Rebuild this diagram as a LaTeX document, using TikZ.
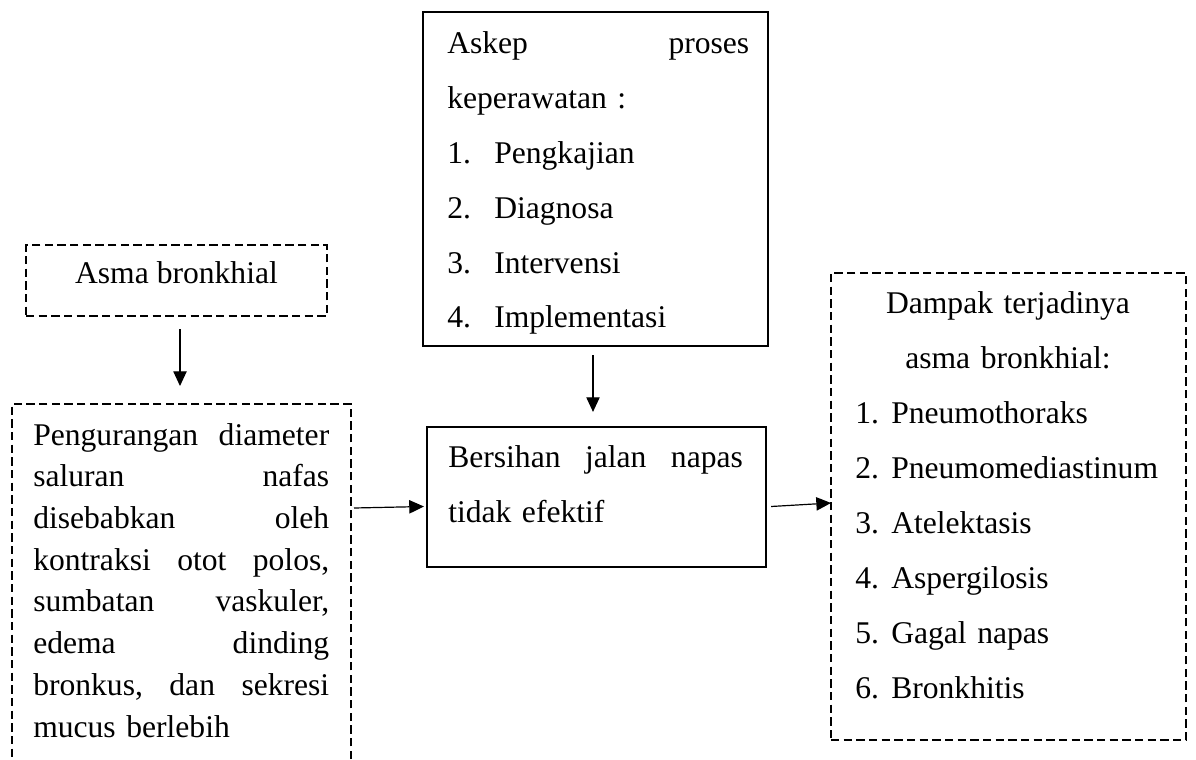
\documentclass[tikz,border=0pt]{standalone}
\usepackage{fontspec}
\setmainfont{Liberation Serif}
\usetikzlibrary{arrows.meta,fit,calc}
\setlength{\parindent}{0pt}
\newcommand{\itemlbl}[2]{\makebox[#1][l]{#2}}
\begin{document}
\begin{tikzpicture}[x=0.75pt,y=-0.75pt,
  sbox/.style={draw, line width=1.6pt, inner sep=0pt},
  dbox/.style={draw, line width=1.5pt, dash pattern=on 6.2pt off 3.3pt, inner sep=0pt},
  arr/.style={line width=0.9pt, -{Triangle[length=11pt,width=10pt]}},
  tight/.style={font=\fontsize{23.7pt}{31.3pt}\selectfont},
  loose/.style={font=\fontsize{23.7pt}{41.25pt}\selectfont},
  para/.style={anchor=base west, inner sep=0pt, align=left},
]
\useasboundingbox (0,0) rectangle (1196,760);
\clip (0,0) rectangle (1196,760);
\fill[white] (0,0) rectangle (1196,760);

% boxes
\node[dbox, fit={(26,245) (327,316)}] (asma) {};
\node[dbox, fit={(12,404) (351,800)}] (peng) {};
\node[sbox, fit={(423,12) (768,346)}] (askep) {};
\node[sbox, fit={(427,427) (766,567)}] (bers) {};
\node[dbox, fit={(831,273) (1186,740)}] (dampak) {};

% texts
\node[tight, anchor=base, inner sep=0pt] (tasma) at (176.5,283) {Asma bronkhial};

\node[tight, para, text width=222pt] (tpeng) at (33,445) {Pengurangan\hfill diameter\\
saluran\hfill nafas\\
disebabkan\hfill oleh\\
kontraksi\hfill otot\hfill polos,\\
sumbatan\hfill vaskuler,\\
edema\hfill dinding\\
bronkus,\hfill dan\hfill sekresi\\
mucus berlebih};

\node[loose, para, text width=226.5pt] (taskep) at (447,53) {Askep\hfill proses\\
keperawatan :\\
\itemlbl{35.25pt}{1.}Pengkajian\\
\itemlbl{35.25pt}{2.}Diagnosa\\
\itemlbl{35.25pt}{3.}Intervensi\\
\itemlbl{35.25pt}{4.}Implementasi};

\node[loose, para, text width=221pt] (tbers) at (448,467) {Bersihan\hfill jalan\hfill napas\\
tidak efektif};

\node[loose, anchor=base, inner sep=0pt, text width=240pt, align=center] (tdamp) at (1008,313) {Dampak terjadinya\\
asma bronkhial:};

\node[loose, para, text width=240pt] (tlist) at (855,423) {\itemlbl{27pt}{1.}Pneumothoraks\\
\itemlbl{27pt}{2.}Pneumomediastinum\\
\itemlbl{27pt}{3.}Atelektasis\\
\itemlbl{27pt}{4.}Aspergilosis\\
\itemlbl{27pt}{5.}Gagal napas\\
\itemlbl{27pt}{6.}Bronkhitis};

% connectors
\draw[arr] ($(asma.south)+(3.5,12)$) -- ($(asma.south |- peng.north)+(3.5,-17)$);
\draw[arr] ($(askep.south)+(-2.5,8)$) -- ($(askep.south |- bers.north)+(-2.5,-14)$);
\draw[arr] ($(peng.north east)+(2,105)$) -- ($(bers.west)+(-2,9.5)$);
\draw[arr] ($(bers.east)+(4,9.5)$) -- ($(dampak.west)+(1,-3.5)$);
\end{tikzpicture}
\end{document}
